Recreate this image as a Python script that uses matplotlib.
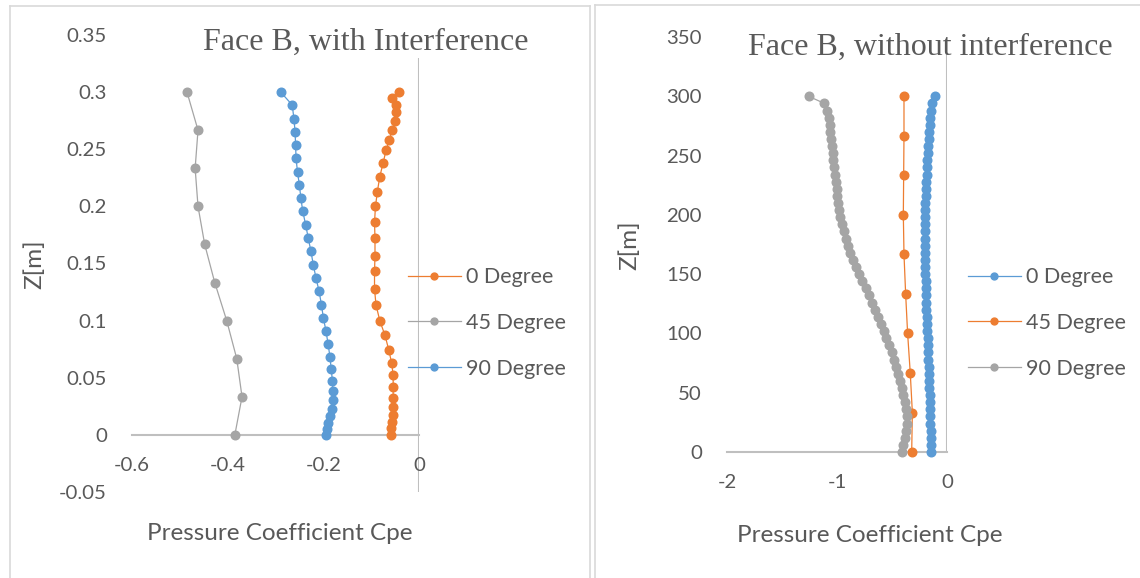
import matplotlib
matplotlib.use("Agg")
import matplotlib.pyplot as plt
from matplotlib.lines import Line2D

# Excel-like palette
ORANGE = "#ED7D31"
GRAY = "#A5A5A5"
BLUE = "#5B9BD5"
TXT = "#595959"
AXC = "#BFBFBF"

# --- Face B, with interference (Z in m, Cpe) ---
z_int_0 = [0, 0.0056, 0.0113, 0.0178, 0.0248, 0.0326, 0.042, 0.052, 0.0625, 0.074,
           0.087, 0.100, 0.114, 0.128, 0.143, 0.157, 0.172, 0.186, 0.200, 0.213,
           0.226, 0.238, 0.249, 0.258, 0.267, 0.275, 0.283, 0.289, 0.295, 0.3]
cpe_int_0 = [-0.058, -0.058, -0.057, -0.055, -0.054, -0.054, -0.054, -0.054, -0.057, -0.063,
             -0.071, -0.082, -0.090, -0.093, -0.093, -0.092, -0.092, -0.093, -0.091, -0.087,
             -0.082, -0.075, -0.069, -0.062, -0.056, -0.050, -0.049, -0.049, -0.056, -0.041]

z_int_45 = [0, 0.0333, 0.0667, 0.1, 0.1333, 0.1667, 0.2, 0.2333, 0.2667, 0.3]
cpe_int_45 = [-0.385, -0.370, -0.381, -0.402, -0.427, -0.448, -0.462, -0.468, -0.462, -0.485]

z_int_90 = [0, 0.005, 0.0108, 0.0166, 0.023, 0.0303, 0.0384, 0.0474, 0.0573, 0.0678,
            0.0794, 0.091, 0.1026, 0.114, 0.126, 0.1375, 0.149, 0.1608, 0.1724, 0.184,
            0.1957, 0.2073, 0.2186, 0.230, 0.242, 0.2535, 0.265, 0.2768, 0.2887, 0.3]
cpe_int_90 = [-0.194, -0.193, -0.190, -0.186, -0.182, -0.180, -0.180, -0.181, -0.1835, -0.186,
              -0.190, -0.1945, -0.200, -0.204, -0.209, -0.2155, -0.221, -0.226, -0.2316, -0.237,
              -0.243, -0.247, -0.250, -0.254, -0.257, -0.258, -0.259, -0.2615, -0.265, -0.289]

# --- Face B, without interference ---
z_free = [0, 6, 12, 18, 24, 30, 36, 42, 48, 54, 60, 66, 72, 78, 84, 90, 96, 102, 108, 114,
          120, 126, 132, 138, 144, 150, 156, 162, 168, 174, 180, 186, 192, 198, 204, 210,
          216, 222, 228, 234, 240, 246, 252, 258, 264, 270, 276, 282, 288, 294, 300]
cpe_free_0 = [-0.143, -0.145, -0.147, -0.149, -0.151, -0.153, -0.155, -0.157, -0.159, -0.161,
              -0.163, -0.165, -0.167, -0.169, -0.171, -0.173, -0.175, -0.178, -0.181, -0.184,
              -0.187, -0.189, -0.191, -0.193, -0.195, -0.196, -0.197, -0.197, -0.197, -0.197,
              -0.197, -0.197, -0.197, -0.197, -0.197, -0.196, -0.193, -0.191, -0.188, -0.186,
              -0.183, -0.180, -0.176, -0.172, -0.168, -0.163, -0.158, -0.151, -0.144, -0.132,
              -0.109]
cpe_free_90 = [-0.409, -0.398, -0.383, -0.374, -0.368, -0.368, -0.374, -0.385, -0.397, -0.410,
               -0.430, -0.446, -0.463, -0.480, -0.504, -0.531, -0.558, -0.573, -0.604, -0.631,
               -0.658, -0.685, -0.712, -0.740, -0.770, -0.800, -0.828, -0.856, -0.880, -0.902,
               -0.920, -0.940, -0.958, -0.975, -0.985, -0.993, -0.998, -1.004, -1.013, -1.022,
               -1.028, -1.034, -1.040, -1.046, -1.052, -1.060, -1.067, -1.076, -1.090, -1.115,
               -1.258]
z_free_45 = [0, 33.3, 66.7, 100, 133.3, 166.7, 200, 233.3, 266.7, 300]
cpe_free_45 = [-0.321, -0.315, -0.334, -0.358, -0.376, -0.391, -0.397, -0.394, -0.391, -0.391]

plt.rcParams["font.family"] = ["Lato", "DejaVu Sans"]

W, H = 1140, 578
fig = plt.figure(figsize=(W / 100, H / 100), dpi=100)


def px_rect(x0, y0, x1, y1):
    # pixel box (top-left origin) -> figure fraction [l, b, w, h]
    return [x0 / W, 1 - y1 / H, (x1 - x0) / W, (y1 - y0) / H]


def style_axes(ax, xlim, ylim, xticks, yticks, xlabels, ylabels):
    ax.set_xlim(*xlim)
    ax.set_ylim(*ylim)
    for s in ["top", "right", "left"]:
        ax.spines[s].set_visible(False)
    ax.spines["bottom"].set_position(("data", 0))
    ax.spines["bottom"].set_color(AXC)
    ax.spines["bottom"].set_linewidth(1.5)
    ax.axvline(0, color=AXC, lw=1.5, zorder=1)
    ax.set_xticks(xticks, xlabels)
    ax.set_yticks(yticks, ylabels)
    ax.tick_params(length=0, labelsize=14.7, labelcolor=TXT)
    ax.tick_params(axis="y", pad=18)
    ax.tick_params(axis="x", pad=16)
    ax.patch.set_alpha(0)


def series(ax, x, z, color, label):
    ax.plot(x, z, color=color, lw=0.9, marker="o", ms=6.2, mec=color, mfc=color,
            label=label, zorder=3, clip_on=False)


# left chart
ax1 = fig.add_axes(px_rect(132, 35, 419, 492))
series(ax1, cpe_int_0, z_int_0, ORANGE, "0 Degree")
series(ax1, cpe_int_45, z_int_45, GRAY, "45 Degree")
series(ax1, cpe_int_90, z_int_90, BLUE, "90 Degree")
style_axes(ax1, (-0.6, 0), (-0.05, 0.35),
           [-0.6, -0.4, -0.2, 0], [-0.05, 0, 0.05, 0.1, 0.15, 0.2, 0.25, 0.3, 0.35],
           ["-0.6", "-0.4", "-0.2", "0"],
           ["-0.05", "0", "0.05", "0.1", "0.15", "0.2", "0.25", "0.3", "0.35"])

# right chart
ax2 = fig.add_axes(px_rect(727, 37, 947, 452))
series(ax2, cpe_free_0, z_free, BLUE, "0 Degree")
series(ax2, cpe_free_45, z_free_45, ORANGE, "45 Degree")
series(ax2, cpe_free_90, z_free, GRAY, "90 Degree")
style_axes(ax2, (-2, 0), (0, 350),
           [-2, -1, 0], [0, 50, 100, 150, 200, 250, 300, 350],
           ["-2", "-1", "0"], ["0", "50", "100", "150", "200", "250", "300", "350"])

for ax, lx in [(ax1, 408), (ax2, 968)]:
    leg = ax.legend(loc="center left", bbox_to_anchor=(lx / W, 1 - 323 / H),
                    bbox_transform=fig.transFigure, frameon=False, fontsize=15.5,
                    handlelength=2.45, handletextpad=0.25, labelspacing=1.2,
                    borderpad=0, borderaxespad=0, markerscale=0.8)
    for t in leg.get_texts():
        t.set_color(TXT)

# titles
fig.text(366 / W, 1 - 50 / H, "Face B, with Interference", family="Liberation Serif",
         fontsize=23, color=TXT, ha="center", va="baseline",
         bbox=dict(facecolor="white", edgecolor="none", pad=1))
fig.text(930 / W, 1 - 55 / H, "Face B, without interference", family="Liberation Serif",
         fontsize=23, color=TXT, ha="center", va="baseline")

# axis titles
fig.text(35 / W, 1 - 264 / H, "Z[m]", rotation=90, fontsize=17.5, color=TXT,
         ha="center", va="center")
fig.text(630 / W, 1 - 245 / H, "Z[m]", rotation=90, fontsize=17.5, color=TXT,
         ha="center", va="center")
fig.text(280 / W, 1 - 533 / H, "Pressure Coefficient Cpe", fontsize=17.5, color=TXT,
         ha="center", va="center")
fig.text(870 / W, 1 - 536 / H, "Pressure Coefficient Cpe", fontsize=17.5, color=TXT,
         ha="center", va="center")

# chart frames
BORDER = "#D9D9D9"
for xs, ys in [((10, 10), (6, H)), ((10, 590), (6, 6)), ((590, 590), (6, H)),
               ((595, 595), (5, H)), ((595, W), (5, 5))]:
    fig.add_artist(Line2D([x / W for x in xs], [1 - y / H for y in ys],
                          color=BORDER, lw=1.2))

fig.savefig("out.png", dpi=100)
plt.close(fig)
